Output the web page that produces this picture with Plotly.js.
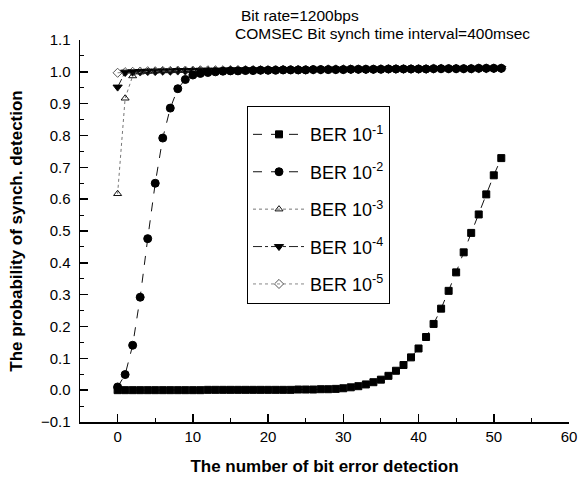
<!DOCTYPE html>
<html>
<head>
<meta charset="utf-8">
<script src="https://cdn.plot.ly/plotly-3.0.1.min.js"></script>
<style>html,body{margin:0;padding:0;background:#fff;}#chart{width:582px;height:486px;}</style>
</head>
<body>
<div id="chart"></div>
<script>
var xVals = [0,1,2,3,4,5,6,7,8,9,10,11,12,13,14,15,16,17,18,19,20,21,22,23,24,25,26,27,28,29,30,31,32,33,34,35,36,37,38,39,40,41,42,43,44,45,46,47,48,49,50,51];

var ber1 = [0.000,0.000,0.000,0.000,0.000,0.000,0.000,0.000,0.000,0.000,0.000,0.000,
            0.001,0.001,0.001,0.001,0.001,0.001,0.001,0.001,0.001,0.001,0.001,0.001,
            0.002,0.002,0.002,0.003,0.003,0.004,0.006,0.009,0.0125,0.018,0.025,0.033,
            0.045,0.061,0.079,0.103,0.131,0.167,0.208,0.256,0.312,0.370,0.433,0.494,
            0.552,0.615,0.675,0.729];

var ber2 = [0.010,0.049,0.141,0.292,0.476,0.650,0.792,0.886,0.947,0.976,0.990,0.995,
            0.998,1.000,1.002,1.003,1.003,1.004,1.004,1.005,1.005,1.005,1.006,1.006,
            1.006,1.006,1.007,1.007,1.007,1.007,1.007,1.008,1.008,1.008,1.008,1.008,
            1.009,1.009,1.009,1.009,1.009,1.009,1.010,1.010,1.010,1.010,1.010,1.010,
            1.011,1.011,1.011,1.011];

var ber3 = [0.617,0.917,0.987,0.999,1.001,1.002,1.003,1.003,1.004,1.004,1.004,1.005,
            1.005,1.005,1.005,1.006,1.006,1.006,1.006,1.006,1.006,1.007,1.007,1.007,
            1.007,1.007,1.007,1.007,1.008,1.008,1.008,1.008,1.008,1.008,1.008,1.009,
            1.009,1.009,1.009,1.009,1.009,1.009,1.010,1.010,1.010,1.010,1.010,1.010,
            1.011,1.011,1.011,1.011];

var ber4 = [0.952,0.999,1.000,1.001,1.002,1.002,1.003,1.003,1.004,1.004,1.004,1.005,
            1.005,1.005,1.005,1.006,1.006,1.006,1.006,1.006,1.006,1.007,1.007,1.007,
            1.007,1.007,1.007,1.007,1.008,1.008,1.008,1.008,1.008,1.008,1.008,1.009,
            1.009,1.009,1.009,1.009,1.009,1.009,1.010,1.010,1.010,1.010,1.010,1.010,
            1.011,1.011,1.011,1.011];

var ber5 = [0.997,0.999,1.000,1.001,1.002,1.002,1.003,1.003,1.004,1.004,1.004,1.005,
            1.005,1.005,1.005,1.006,1.006,1.006,1.006,1.006,1.006,1.007,1.007,1.007,
            1.007,1.007,1.007,1.007,1.008,1.008,1.008,1.008,1.008,1.008,1.008,1.009,
            1.009,1.009,1.009,1.009,1.009,1.009,1.010,1.010,1.010,1.010,1.010,1.010,
            1.011,1.011,1.011,1.011];

var seriesNames = ['BER 10<sup>-1</sup>','BER 10<sup>-2</sup>','BER 10<sup>-3</sup>','BER 10<sup>-4</sup>','BER 10<sup>-5</sup>'];
var noteLines = ['Bit rate=1200bps','COMSEC Bit synch time interval=400msec'];
var xTitle = 'The number of bit error detection';
var yTitle = 'The probability of synch. detection';

var FONT = 'Liberation Sans, Arial, sans-serif';

function mk(y, name, sym, size, lineColor, dash, mColor, grp, rank) {
  return {
    x: xVals, y: y, name: name, type: 'scatter', mode: 'lines+markers',
    legendgroup: grp, legendrank: rank,
    line: {color: lineColor, width: 1, dash: dash},
    marker: {symbol: sym, size: size, color: mColor, line: {color: mColor, width: 1}}
  };
}

var traces = [
  mk(ber5, seriesNames[4], 'diamond-open', 7, '#888', 'dot', '#555', 'g5', 5),
  mk(ber4, seriesNames[3], 'triangle-down', 8, '#222', 'dashdot', '#000', 'g4', 4),
  mk(ber3, seriesNames[2], 'triangle-up-open', 7, '#777', 'dot', '#111', 'g3', 3),
  mk(ber2, seriesNames[1], 'circle', 8, '#111', 'dash', '#000', 'g2', 2),
  mk(ber1, seriesNames[0], 'square', 7, '#111', 'dash', '#000', 'g1', 1)
];

var layout = {
  width: 582, height: 486,
  margin: {l: 80, r: 13, t: 40, b: 64.3},
  paper_bgcolor: '#fff', plot_bgcolor: '#fff',
  font: {family: FONT, color: '#000', size: 14},
  showlegend: true,
  legend: {
    x: (247 - 80) / 489, y: (421.7 - 106) / 381.7, xanchor: 'left', yanchor: 'top',
    bordercolor: '#000', borderwidth: 1, bgcolor: '#fff',
    font: {family: FONT, size: 18, color: '#000'},
    title: {text: '&nbsp;', font: {family: FONT, size: 7}},
    traceorder: 'grouped', tracegroupgap: 11,
    itemwidth: 52
  },
  xaxis: {
    range: [-5, 60], dtick: 10, tick0: 0,
    showgrid: false, zeroline: false,
    showline: true, linecolor: '#000', linewidth: 1.5,
    ticks: 'inside', ticklen: 8, tickcolor: '#000', tickwidth: 1.5,
    minor: {ticks: 'inside', ticklen: 4, dtick: 5, tickcolor: '#000', tickwidth: 1},
    tickfont: {family: FONT, size: 15},
    title: {text: '<b>' + xTitle + '</b>', font: {family: FONT, size: 17}, standoff: 16}
  },
  yaxis: {
    range: [-0.1, 1.1], dtick: 0.1, tick0: 0, tickformat: '.1f',
    showgrid: false, zeroline: false,
    showline: true, linecolor: '#000', linewidth: 1.5,
    ticks: 'inside', ticklen: 8, tickcolor: '#000', tickwidth: 1.5,
    minor: {ticks: 'inside', ticklen: 4, dtick: 0.05, tickcolor: '#000', tickwidth: 1},
    tickfont: {family: FONT, size: 15},
    ticklabelstandoff: 5,
    title: {text: '<b>' + yTitle + '</b>', font: {family: FONT, size: 17}, standoff: 14}
  },
  annotations: [
    {xref: 'paper', yref: 'paper', x: (239 - 80) / 489, y: (421.7 - 16) / 381.7,
     xanchor: 'left', yanchor: 'middle', showarrow: false, text: noteLines[0],
     font: {family: FONT, size: 15.5}},
    {xref: 'paper', yref: 'paper', x: (233 - 80) / 489, y: (421.7 - 34) / 381.7,
     xanchor: 'left', yanchor: 'middle', showarrow: false, text: noteLines[1],
     font: {family: FONT, size: 15.5}}
  ]
};

Plotly.newPlot('chart', traces, layout, {displayModeBar: false, staticPlot: true});
</script>
</body>
</html>
